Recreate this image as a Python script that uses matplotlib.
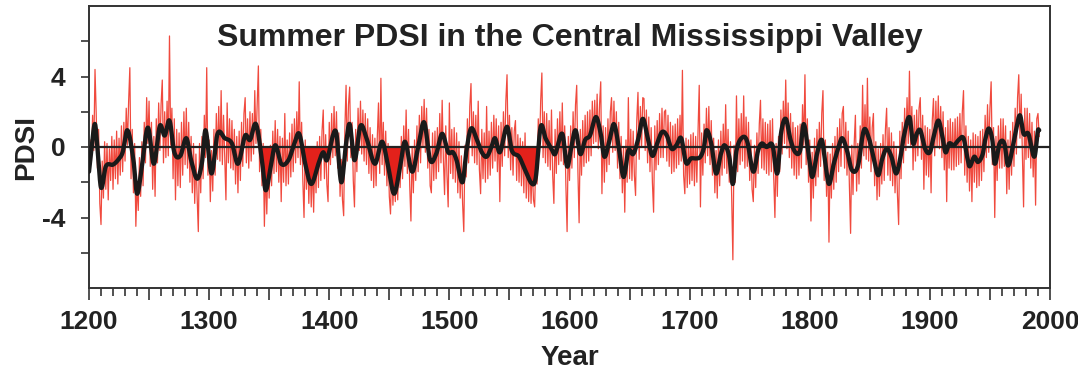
import matplotlib
matplotlib.use("Agg")
import matplotlib.pyplot as plt
import numpy as np
from matplotlib.ticker import MultipleLocator, FixedLocator, FuncFormatter

plt.rcParams['font.family'] = ['Liberation Sans', 'DejaVu Sans']
plt.rcParams['axes.unicode_minus'] = False

# ---------------- data ----------------
start_year = 1200
# Annual summer PDSI, 1200-1991 (one row per decade)
pdsi_annual = [
    -1.6, 0.4, -0.8, 1.8, -0.2, 4.4, 1.9, -1.2, 1.0, -3.2,
    -4.4, -0.8, -2.9, 0.3, -2.4, 0.2, -3.0, -0.1, -1.9, 0.6,
    -2.4, 0.4, -1.8, 0.9, -2.1, 0.5, -1.6, 1.2, -1.4, 1.4,
    -0.8, 2.2, 0.1, 2.6, 4.5, -1.8, 1.0, -2.6, 0.2, -4.5,
    -2.0, -3.6, -0.6, -2.8, 0.3, -2.2, 1.4, -0.9, 2.8, 0.2,
    2.6, -1.1, 1.4, -2.4, 0.6, -2.8, 1.6, -0.9, 2.5, -0.2,
    2.4, 3.8, -0.9, 2.0, -0.6, 2.6, -0.5, 6.3, 0.1, 2.2,
    -1.8, 1.6, -3.0, 1.0, -2.2, 0.8, -2.3, 1.4, -1.6, 2.0,
    -1.0, 2.2, -1.2, 1.4, -2.0, 0.6, -2.6, 0.2, -3.2, -0.4,
    -2.8, -4.8, 0.2, -2.6, 0.6, -1.8, 1.8, -0.6, 4.5, -1.6,
    0.4, -3.1, -0.2, -2.5, 1.0, -1.6, 1.9, -0.7, 2.3, -0.8,
    3.2, -1.0, 1.8, -0.6, -3.0, 2.5, -0.9, 1.6, -1.2, 1.5,
    -1.3, 1.0, -2.1, 0.6, -2.6, 0.9, -1.9, 1.4, -1.1, 1.9,
    2.8, -0.9, 1.6, -1.2, 2.0, -0.8, 1.9, -0.4, 3.2, 0.2,
    2.4, 4.6, -1.4, 1.0, -2.2, 0.2, -4.5, -1.2, -3.8, -0.6,
    -2.9, 0.1, -2.2, 0.9, -1.5, 1.5, -1.4, 1.0, -2.0, 0.6,
    -3.1, 0.5, -2.0, 1.9, -2.2, 0.4, -2.1, 0.8, -1.7, 1.3,
    -1.4, 1.6, -0.9, 2.0, -0.6, 3.7, -1.0, 1.4, -1.9, -4.0,
    0.4, -2.4, 0.0, -3.2, -0.5, -3.4, -0.8, -3.7, -0.3, -2.6,
    0.3, -2.3, 0.6, -1.9, 0.9, 2.1, -1.8, 0.7, -2.1, -3.1,
    1.4, -1.0, 1.9, -0.6, 2.3, -0.5, 2.0, -1.2, 0.8, -2.8,
    -0.7, -3.0, -3.9, 1.0, 3.5, -0.8, 2.4, 3.4, -0.6, 1.4,
    -1.9, -3.4, 1.0, -1.4, 2.2, -0.2, 2.6, -0.4, 2.1, -0.8,
    1.9, -1.0, 1.6, -1.5, 1.1, -1.9, 0.7, -2.3, 0.5, -2.2,
    0.6, 2.5, -1.5, 3.9, -1.0, 1.4, -1.6, 0.9, -2.2, 0.2,
    -2.8, -3.8, -0.9, -3.3, -1.4, -3.1, -0.8, -3.0, 0.0, -2.3,
    0.6, -1.8, 1.2, -1.1, 2.1, -1.5, 1.0, -2.2, -4.2, 0.0,
    -2.6, 0.4, -1.9, 1.2, -1.4, 1.8, -0.9, 2.3, 0.0, 2.7,
    -0.3, 2.2, -1.2, 1.0, -2.2, -2.6, 0.8, -1.9, 0.9, -1.8,
    1.1, -1.4, 1.9, -0.9, 2.65, -0.7, -2.7, 1.2, -1.6, -3.4,
    2.5, -1.5, 1.0, -1.8, 1.1, -2.0, 0.8, -2.6, 0.3, -2.9,
    -0.5, -3.2, -4.8, 0.1, -1.7, 1.6, -0.9, 2.3, 3.6, -0.5,
    2.0, -0.9, 1.8, -1.0, 2.6, -1.3, -2.65, 1.0, -1.8, 0.8,
    -2.0, 2.3, -1.8, 0.9, -1.6, 1.4, -1.2, 1.8, -0.8, 1.6,
    -1.4, 1.2, -3.1, 1.4, -1.1, 2.0, -0.5, 2.6, 4.1, -0.6,
    1.8, -1.3, 1.1, -1.6, 0.9, 1.5, -1.9, 0.7, -2.0, 0.5,
    -2.2, 0.3, -2.6, 0.8, -2.9, -0.2, -3.1, -0.6, -3.2, -1.0,
    -3.0, -3.4, -0.4, -2.1, 1.6, -0.3, 2.6, 4.2, -0.6, 2.0,
    -0.9, 1.9, -1.1, 1.5, -1.3, 2.1, -1.6, -3.2, 1.0, -1.5,
    1.6, -1.0, 2.0, -0.8, 2.5, -1.0, 1.2, -2.2, -4.8, 0.6,
    -1.9, 1.2, -1.2, 2.0, -0.6, 2.4, 3.5, -1.4, -4.3, 1.0,
    -1.6, 1.5, -1.1, 1.8, -0.9, 2.0, -0.8, 2.1, -0.5, 2.6,
    0.2, 2.65, 0.3, 3.0, -0.1, 2.4, 3.7, -2.65, 1.2, -2.0,
    1.1, -1.4, 1.6, -1.0, 2.0, 2.8, -0.3, 2.6, -0.2, 2.0,
    -1.2, 1.4, -1.8, 0.6, -2.6, 0.0, -3.7, 0.4, -2.0, 2.8,
    -1.8, 1.0, -1.9, 0.9, -1.6, -2.75, 1.5, 3.1, -0.7, 2.3,
    0.0, 2.8, 2.75, -0.2, 2.1, -0.9, 1.7, -1.4, 1.1, -2.0,
    -3.7, 1.2, -1.3, 1.5, -1.0, 1.9, -0.6, 2.2, -0.6, 2.0,
    2.1, -0.8, 1.8, -1.1, 1.4, -1.5, 1.2, -1.4, 1.3, -1.2,
    1.6, -1.0, 1.8, -0.8, 4.35, -1.6, -2.65, 0.5, -2.3, 0.4,
    -2.1, 0.7, -1.9, 0.8, -2.2, 0.6, -2.0, 0.9, 3.5, -3.4,
    0.8, -1.6, 1.3, -0.9, 2.2, -0.5, 2.3, -1.0, 1.5, -1.6,
    0.5, -2.6, -0.2, -2.9, 0.4, -2.2, 0.9, -1.6, 1.3, -1.2,
    2.4, -1.5, 1.0, -2.0, 0.3, -2.8, -6.4, 0.1, -2.0, 2.9,
    -1.4, 1.6, -1.0, 1.9, -0.8, 2.9, -1.2, 1.7, -1.1, 1.4,
    -1.9, 0.4, -2.4, -3.1, 0.1, -2.3, 0.8, -1.5, 1.3, 2.65,
    -1.2, 1.6, -1.3, 1.4, -1.5, 1.3, -1.6, 1.5, -1.4, 1.6,
    -1.7, -4.0, 0.2, -2.8, 0.6, -1.4, 2.1, -0.4, 2.6, 0.2,
    3.8, -0.1, 2.5, -0.6, 1.9, -1.2, 1.4, -1.6, 1.1, -1.8,
    1.2, -1.6, 1.3, -1.2, 2.4, 0.1, 4.1, -1.0, 1.6, -2.0,
    0.4, -4.2, -0.3, -2.9, 0.5, -2.2, 1.0, -1.7, 1.4, -1.1,
    1.9, 3.2, -1.9, 0.4, -2.8, -0.3, -5.4, -0.4, -2.9, 0.2,
    -2.4, 0.6, -2.0, 1.1, -1.4, 1.6, -1.1, 1.9, 2.3, -1.2,
    1.4, -1.6, 0.9, -2.2, -4.9, 0.1, -2.7, 0.2, 1.8, -2.5,
    0.2, -2.1, 1.2, -1.2, 3.5, -0.5, 2.4, -0.7, 3.9, -0.8,
    1.7, -1.4, 1.1, 1.9, -2.2, 0.3, -3.0, -0.1, -2.8, 0.2,
    -2.1, 0.7, -1.9, 1.0, 2.2, -1.6, 1.1, -1.9, 0.8, -2.2,
    0.3, -2.6, -0.1, -2.7, -4.4, 0.9, -1.8, 1.4, -0.9, 2.2,
    -0.2, 2.8, 0.2, 4.3, 0.1, 2.3, -1.3, 1.8, -0.8, 2.1,
    -0.5, 2.2, 2.8, -0.7, 1.8, -2.4, 1.2, -1.6, 1.1, -1.7,
    1.0, -2.6, 1.5, 2.75, -0.5, 2.6, 0.0, 2.9, -0.1, 2.3,
    -0.6, 2.0, -1.3, 1.1, -3.1, 1.5, -1.2, 1.6, -1.3, 1.4,
    -1.3, 1.6, -1.1, 1.7, -1.0, 1.9, -0.9, 2.0, 3.2, -1.6,
    1.2, -2.0, 0.6, -2.5, 0.4, -3.1, 0.8, -2.0, 0.7, -2.3,
    0.6, -2.2, 0.9, -1.9, 1.0, -1.4, 1.8, -0.6, 2.4, -0.3,
    2.2, 3.7, -1.0, 1.1, -4.0, 0.6, -1.9, 1.2, -1.2, 1.6,
    -1.2, 1.6, -1.1, 1.2, -2.65, 0.4, -2.4, 0.9, -1.6, 1.4,
    -1.1, 2.2, -0.4, 2.8, 4.1, 0.5, 3.0, -0.4, -3.4, 2.2,
    -0.7, 2.2, -0.6, 1.9, -1.2, 1.4, -1.7, 0.9, -3.3, 1.6,
    1.9, 0.6,
]

# Smoothed (low-pass) series
smooth_years = [
    1200, 1203, 1205, 1207, 1210, 1214, 1220, 1224, 1228, 1232, 1237, 1240, 1244, 1249,
    1254, 1259, 1263, 1267, 1271, 1276, 1281, 1285, 1290, 1294, 1297, 1302, 1307, 1313,
    1319, 1324, 1330, 1334, 1339, 1344, 1347, 1351, 1355, 1360, 1366, 1371, 1375, 1380,
    1385, 1391, 1395, 1398, 1403, 1406, 1410, 1414, 1417, 1421, 1426, 1431, 1438, 1444,
    1449, 1454, 1459, 1463, 1469, 1474, 1479, 1484, 1489, 1494, 1499, 1503, 1506, 1511,
    1514, 1518, 1523, 1527, 1531, 1535, 1538, 1542, 1548, 1552, 1558, 1563, 1569, 1572,
    1576, 1580, 1585, 1588, 1594, 1598, 1601, 1605, 1609, 1613, 1617, 1622, 1626, 1629,
    1633, 1637, 1641, 1645, 1649, 1653, 1657, 1661, 1665, 1669, 1673, 1677, 1681, 1685,
    1689, 1693, 1697, 1701, 1705, 1709, 1712, 1714, 1718, 1722, 1726, 1729, 1733, 1736,
    1739, 1744, 1748, 1753, 1757, 1760, 1764, 1769, 1773, 1776, 1780, 1784, 1788, 1792,
    1795, 1799, 1802, 1806, 1810, 1813, 1816, 1820, 1824, 1827, 1831, 1835, 1840, 1845,
    1849, 1853, 1857, 1860, 1864, 1868, 1872, 1876, 1878, 1883, 1886, 1889, 1892, 1896,
    1900, 1903, 1907, 1910, 1913, 1916, 1920, 1924, 1928, 1931, 1933, 1937, 1940, 1944,
    1946, 1949, 1952, 1954, 1958, 1962, 1965, 1969, 1972, 1975, 1978, 1982, 1987, 1990,
    1991,
]
smooth_vals = [
    -1.4, 0.5, 1.3, 0.0, -2.3, -1.1, -1.0, -0.75, -0.3, 0.95, -0.75, -2.65, -1.1, 1.1,
    -0.95, 1.2, 0.65, 1.5, -0.3, -0.5, 0.5, -0.75, -1.8, -0.9, 0.95, -1.5, 0.75, 0.5,
    0.2, -0.95, 0.65, 0.4, 1.3, -0.75, -2.45, -1.2, 0.1, -0.95, -0.75, 0.2, 0.75, -0.95,
    -2.1, -0.95, -0.3, -0.75, 0.65, 0.75, -2.0, 0.2, 1.3, -0.75, 1.2, 0.5, -0.95, 0.3,
    -1.1, -2.65, -1.1, 0.3, -1.4, 0.0, 1.4, -0.75, -0.4, 0.75, -0.3, -0.3, -0.75, -2.0,
    -0.3, 1.05, 0.4, -0.3, -0.55, 0.0, 0.5, -0.3, 1.15, -0.2, -0.55, -1.3, -2.1, -1.7,
    1.15, 0.5, -0.1, -0.4, 0.75, -1.1, -0.2, 0.95, -0.4, 0.4, 0.65, 1.7, 0.75, -0.55,
    0.3, 1.3, 0.0, -1.7, -0.2, -0.4, 0.4, 1.6, 0.55, -0.5, 0.2, 0.85, 0.65, -0.1,
    0.1, 0.5, -0.9, -0.65, -0.65, -0.55, 0.0, 0.95, 0.2, -1.5, -0.4, 0.1, -0.55, -2.1,
    -0.2, 0.55, 0.3, -1.4, -0.2, 0.2, 0.0, 0.1, -1.5, 0.75, 1.6, 0.4, -0.3, -0.2,
    1.3, -0.4, -1.7, -0.4, 0.4, -0.95, -2.1, -0.95, 0.0, 0.5, -0.2, -1.3, -1.1, 0.95,
    0.55, -0.55, -1.6, -0.75, -0.1, -0.55, -1.5, -0.4, 0.5, 1.7, 0.2, 0.75, 0.95, -0.1,
    -0.3, 0.55, 1.5, 0.75, -0.3, 0.2, 0.1, 0.4, 0.5, -0.55, -1.1, -0.55, -0.85, -0.4,
    0.4, 1.05, 0.4, -0.95, 0.2, 0.2, -1.05, 0.0, 1.05, 1.8, 0.75, 0.75, -0.55, 0.95,
    0.95,
]

# Drought periods shaded in red
fill_periods = [(1344, 1356), (1377, 1402), (1446, 1462), (1551, 1574)]

title = "Summer PDSI in the Central Mississippi Valley"
x_ticklabels = [1200, 1300, 1400, 1500, 1600, 1700, 1800, 1900, 2000]
y_ticklabels = [-4, 0, 4]

# ---------------- plot ----------------
years = np.arange(start_year, start_year + len(pdsi_annual))
sy = np.array(smooth_years, dtype=float)
sv = np.array(smooth_vals, dtype=float)


def hermite_curve(x, y, n=6000):
    """Draw a smooth curve through the read points (cubic Hermite, Catmull-Rom slopes)."""
    m = np.zeros_like(y)
    m[1:-1] = (y[2:] - y[:-2]) / (x[2:] - x[:-2])
    m[0] = (y[1] - y[0]) / (x[1] - x[0])
    m[-1] = (y[-1] - y[-2]) / (x[-1] - x[-2])
    gx = np.linspace(x[0], x[-1], n)
    idx = np.clip(np.searchsorted(x, gx, side='right') - 1, 0, len(x) - 2)
    h = x[idx + 1] - x[idx]
    t = (gx - x[idx]) / h
    h00 = 2 * t**3 - 3 * t**2 + 1
    h10 = t**3 - 2 * t**2 + t
    h01 = -2 * t**3 + 3 * t**2
    h11 = t**3 - t**2
    gy = h00 * y[idx] + h10 * h * m[idx] + h01 * y[idx + 1] + h11 * h * m[idx + 1]
    return gx, gy


gx, gv = hermite_curve(sy, sv)

fig = plt.figure(figsize=(10.78, 3.81), dpi=100)
ax = fig.add_axes([89 / 1078, 1 - 288 / 381, (1050 - 89) / 1078, (288 - 6) / 381])

ax.plot(years, pdsi_annual, color='#ee2a1c', lw=0.9, alpha=0.85, zorder=2)

mask = np.zeros_like(gx, dtype=bool)
for a, b in fill_periods:
    mask |= (gx >= a) & (gx <= b)
ax.fill_between(gx, gv, 0, where=mask & (gv < 0), color='#e3211b',
                interpolate=True, lw=0, zorder=3)

ax.axhline(0, color='#222222', lw=1.6, zorder=4)
ax.plot(gx, gv, color='#1a1a1a', lw=3.1, solid_joinstyle='round',
        solid_capstyle='round', zorder=5)

ax.set_xlim(1200, 2000)
ax.set_ylim(-8, 8)

for s in ax.spines.values():
    s.set_color('#333333')
    s.set_linewidth(1.4)

ax.xaxis.set_major_locator(FixedLocator(np.arange(1200, 2001, 50)))
ax.xaxis.set_minor_locator(MultipleLocator(10))
ax.xaxis.set_major_formatter(FuncFormatter(lambda v, p: f"{int(v)}" if int(v) in x_ticklabels else ""))
ax.yaxis.set_major_locator(FixedLocator(y_ticklabels))
ax.yaxis.set_minor_locator(FixedLocator([-6, -2, 2, 6]))

ax.tick_params(axis='x', which='major', direction='out', length=8.5, width=1.2,
               color='#333333', pad=7, labelsize=19)
ax.tick_params(axis='x', which='minor', direction='out', length=6, width=1.2, color='#333333')
ax.tick_params(axis='y', which='both', direction='out', length=6, width=1.2,
               color='#333333', pad=11, labelsize=19)
for lab in ax.get_xticklabels() + ax.get_yticklabels():
    lab.set_fontweight('bold')
    lab.set_color('#222222')

ax.set_xlabel("Year", fontsize=20, fontweight='bold', color='#222222', labelpad=8)
ax.set_ylabel("PDSI", fontsize=20, fontweight='bold', color='#222222', labelpad=2)
ax.text(0.5, 0.885, title, transform=ax.transAxes, ha='center', va='center',
        fontsize=23, fontweight='bold', color='#222222', zorder=6)

fig.savefig("out.png", dpi=100)
